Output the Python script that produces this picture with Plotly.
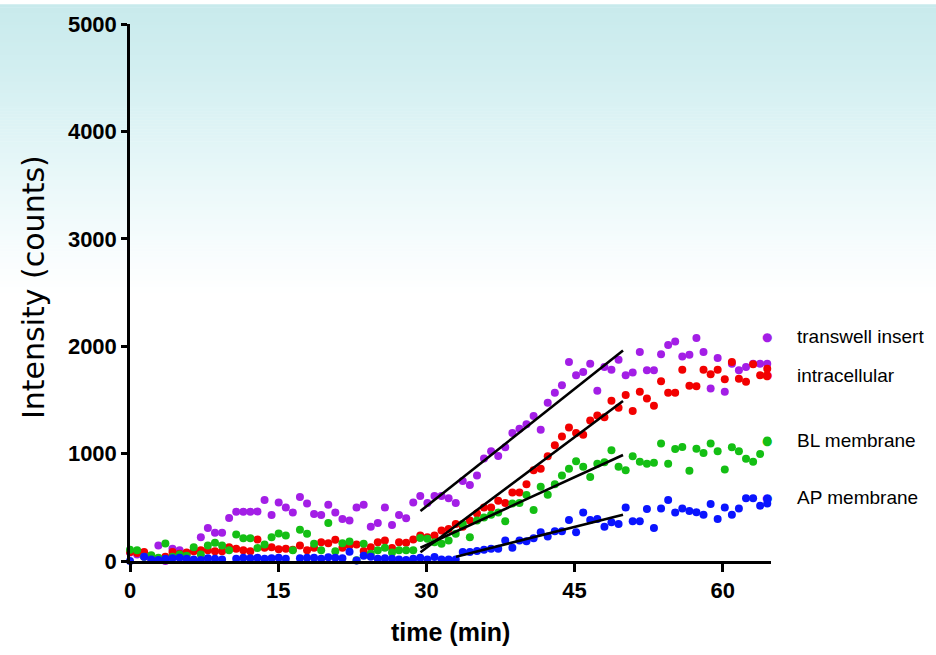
import numpy as np
import plotly.graph_objects as go

# Sampling times (min), one reading every 43 s
time_min = [
    0.00, 0.72, 1.43, 2.15, 2.87, 3.58, 4.30, 5.02, 5.73, 6.45,
    7.17, 7.88, 8.60, 9.32, 10.03, 10.75, 11.47, 12.18, 12.90, 13.62,
    14.33, 15.05, 15.77, 16.48, 17.20, 17.92, 18.63, 19.35, 20.07, 20.78,
    21.50, 22.22, 22.93, 23.65, 24.37, 25.08, 25.80, 26.52, 27.23, 27.95,
    28.67, 29.38, 30.10, 30.82, 31.53, 32.25, 32.97, 33.68, 34.40, 35.12,
    35.83, 36.55, 37.27, 37.98, 38.70, 39.42, 40.13, 40.85, 41.57, 42.28,
    43.00, 43.72, 44.43, 45.15, 45.87, 46.58, 47.30, 48.02, 48.73, 49.45,
    50.17, 50.88, 51.60, 52.32, 53.03, 53.75, 54.47, 55.18, 55.90, 56.62,
    57.33, 58.05, 58.77, 59.48, 60.20, 60.92, 61.63, 62.35, 63.07, 63.78,
    64.50,
]

transwell_insert = [
    80, 60, 40, 15, 145, 0, 114, 99, 60, 100,
    222, 308, 262, 262, 400, 459, 459, 459, 462, 567,
    428, 545, 498, 452, 597, 535, 437, 428, 523, 452,
    391, 376, 498, 523, 320, 354, 498, 336, 428, 397,
    545, 606, 539, 606, 606, 585, 539, 745, 708, 797,
    954, 1022, 978, 1059, 1191, 1231, 1274, 1351, 1222, 1474,
    1566, 1637, 1852, 1730, 1760, 1837, 1585, 1806, 1781, 1874,
    1730, 1754, 1945, 1776, 1776, 1924, 2012, 2044, 1905, 1920,
    2077, 1945, 1606, 1889, 1576, 1837, 1776, 1806, 1837, 1837,
    1837,
]

intracellular = [
    83, 74, 83, -8, 20, 40, 83, 68, 80, 90,
    99, 99, 90, 90, 129, 114, 100, 90, 200, 124,
    129, 110, 114, 105, 145, 99, 124, 175, 166, 198,
    124, 145, 154, 92, 129, 175, 191, 120, 175, 170,
    200, 237, 222, 237, 283, 299, 345, 320, 376, 443,
    498, 498, 560, 539, 637, 637, 714, 844, 858, 976,
    1077, 1160, 1243, 1191, 1176, 1308, 1354, 1338, 1492, 1428,
    1545, 1397, 1576, 1514, 1446, 1674, 1566, 1566, 1781, 1632,
    1628, 1781, 1739, 1781, 1693, 1852, 1698, 1668, 1831, 1730,
    1790,
]

bl_membrane = [
    105, 99, 40, 53, 30, 163, 40, 60, 50, 129,
    60, 145, 170, 145, 100, 246, 212, 212, 120, 154,
    222, 255, 237, 99, 290, 253, 161, 99, 354, 90,
    166, 182, 6, 161, 68, 99, 124, 80, 99, 99,
    99, 215, 207, 175, 161, 191, 253, 345, 222, 376,
    406, 430, 452, 369, 535, 540, 614, 474, 692, 616,
    714, 797, 858, 929, 877, 782, 905, 920, 1031, 877,
    844, 976, 923, 905, 914, 1093, 905, 1043, 1061, 840,
    1045, 1006, 1093, 1022, 853, 1059, 1022, 951, 923, 997,
    1121,
]

ap_membrane = [
    0, -5, 40, 15, 10, 20, 25, 30, 20, 15,
    10, 25, 20, 15, -10, 20, 30, 25, 30, 20,
    25, 30, 20, -10, 25, 30, 30, 20, 35, 30,
    25, 85, 5, 50, 40, 20, 25, 20, 15, 10,
    20, 31, 13, 37, 13, 13, 13, 83, 83, 92,
    105, 114, 114, 191, 124, 191, 183, 212, 268, 228,
    277, 277, 382, 268, 452, 382, 391, 320, 360, 345,
    498, 369, 369, 484, 308, 489, 567, 452, 489, 465,
    455, 431, 530, 391, 498, 431, 489, 585, 585, 514,
    535,
]

series_names = ["transwell insert", "intracellular", "BL membrane", "AP membrane"]
series_values = [transwell_insert, intracellular, bl_membrane, ap_membrane]
series_colors = ["#a31ee6", "#f20000", "#14bf14", "#0a14ff"]
# time windows used for the linear fits
fit_windows = [(29.3, 50.2), (29.3, 50.2), (29.3, 50.2), (32.9, 50.2)]
fit_draw = [(29.4, 49.9), (29.4, 49.9), (29.4, 49.9), (33.0, 49.9)]

# legend label positions (intensity units)
legend_y = [2090, 1730, 1120, 590]

fig = go.Figure()

t_arr = np.array(time_min)
for name, vals, col in zip(series_names, series_values, series_colors):
    fig.add_trace(go.Scatter(
        x=time_min, y=vals, mode="markers", name=name,
        marker=dict(color=col, size=8, line=dict(width=0)),
        cliponaxis=False, showlegend=False,
    ))

for vals, (w0, w1), (d0, d1) in zip(series_values, fit_windows, fit_draw):
    v_arr = np.array(vals, dtype=float)
    m = (t_arr >= w0) & (t_arr <= w1)
    k, b = np.polyfit(t_arr[m], v_arr[m], 1)
    fig.add_trace(go.Scatter(
        x=[d0, d1], y=[k * d0 + b, k * d1 + b], mode="lines",
        line=dict(color="black", width=2.6), showlegend=False,
        hoverinfo="skip",
    ))

# plot-area geometry in pixels
W, H = 936, 655
ML, MR, MT, MB = 130, 165, 20, 94
PW, PH = W - ML - MR, H - MT - MB

def py_to_paper(ypx):
    return (H - MB - ypx) / PH

# soft teal-to-white vertical wash behind the figure
stops = [(0, (200, 234, 236)), (60, (209, 238, 240)), (120, (221, 243, 245)),
         (180, (234, 248, 249)), (240, (246, 252, 253)), (295, (255, 255, 255))]
shapes = []
band = 3
for y0 in range(0, 300, band):
    yc = y0 + band / 2
    for (a, ca), (bb, cb) in zip(stops[:-1], stops[1:]):
        if a <= yc <= bb:
            f = (yc - a) / (bb - a)
            c = tuple(int(round(ca[j] + f * (cb[j] - ca[j]))) for j in range(3))
            break
    shapes.append(dict(
        type="rect", xref="paper", yref="paper", layer="below",
        x0=-ML / PW, x1=(W - ML) / PW,
        y0=py_to_paper(y0 + band + 0.5), y1=py_to_paper(y0),
        fillcolor="rgb(%d,%d,%d)" % c, line=dict(width=0),
    ))

annotations = []
for name, col, ly in zip(series_names, series_colors, legend_y):
    annotations.append(dict(
        xref="paper", yref="y", x=(767 - ML) / PW, y=ly, text="●",
        showarrow=False, xanchor="center", yanchor="middle",
        font=dict(family="DejaVu Sans", size=12, color=col),
    ))
    annotations.append(dict(
        xref="paper", yref="y", x=(795 - ML) / PW, y=ly, text=name,
        showarrow=False, xanchor="left", yanchor="middle",
        font=dict(family="Liberation Sans", size=19, color="black"),
    ))

annotations.append(dict(
    xref="paper", yref="paper", x=(33 - ML) / PW, y=py_to_paper(285),
    text="Intensity (counts)", textangle=-90, showarrow=False,
    xanchor="center", yanchor="middle",
    font=dict(family="DejaVu Sans", size=30, color="black"),
))
annotations.append(dict(
    xref="paper", yref="paper", x=0.5, y=py_to_paper(633),
    text="time (min)", showarrow=False, xanchor="center", yanchor="middle",
    font=dict(family="Liberation Sans", size=25, color="black", weight="bold"),
))

tick_font = dict(family="Liberation Sans", size=22, color="black", weight="bold")

fig.update_layout(
    width=W, height=H,
    margin=dict(l=ML, r=MR, t=MT, b=MB, pad=0),
    paper_bgcolor="white", plot_bgcolor="rgba(0,0,0,0)",
    shapes=shapes, annotations=annotations,
    xaxis=dict(
        range=[0, PW / 9.88], tickvals=[0, 15, 30, 45, 60],
        showgrid=False, zeroline=False, showline=True, linecolor="black",
        linewidth=2.5, ticks="outside", ticklen=8, tickwidth=2.5,
        tickcolor="black", tickfont=tick_font,
    ),
    yaxis=dict(
        range=[0, 5000], tickvals=[0, 1000, 2000, 3000, 4000, 5000],
        showgrid=False, zeroline=False, showline=True, linecolor="black",
        linewidth=2.5, ticks="outside", ticklen=6, tickwidth=2.5,
        tickcolor="black", tickfont=tick_font,
    ),
)

fig.write_html("out.html")
